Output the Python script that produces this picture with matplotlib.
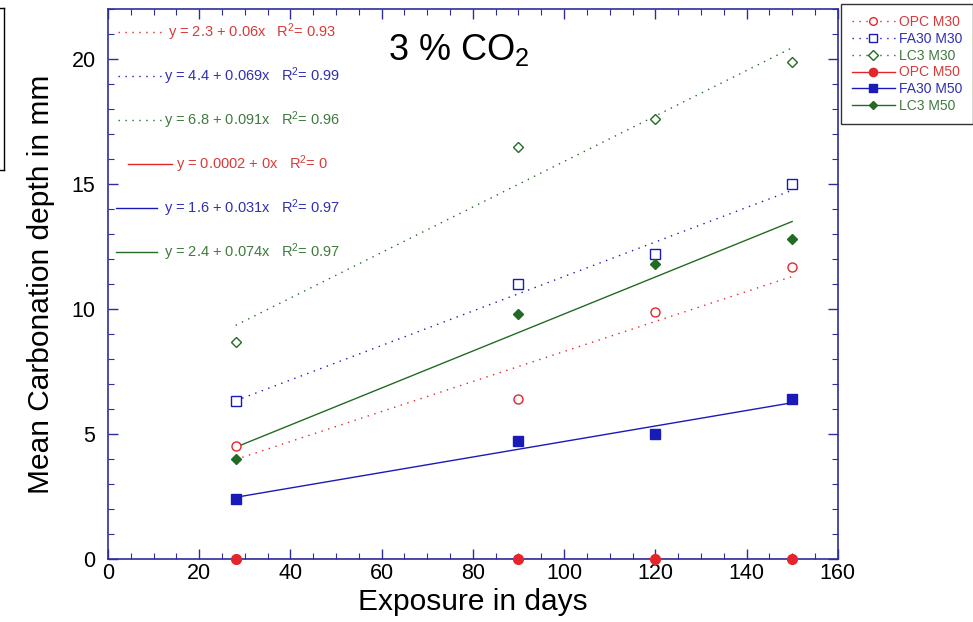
import numpy as np
import matplotlib.pyplot as plt
from matplotlib.lines import Line2D
from matplotlib.ticker import MultipleLocator

plt.rcParams['font.family'] = ['Liberation Sans', 'DejaVu Sans']
plt.rcParams['mathtext.fontset'] = 'custom'
plt.rcParams['mathtext.rm'] = 'Liberation Sans'
plt.rcParams['mathtext.it'] = 'Liberation Sans'

# exposure time (days) and carbonation depth (mm) per mix
days = [28, 90, 120, 150]
series = ['OPC M30', 'FA30 M30', 'LC3 M30', 'OPC M50', 'FA30 M50', 'LC3 M50']
depth = {
    'OPC M30':  [4.5, 6.4, 9.9, 11.7],
    'FA30 M30': [6.3, 11.0, 12.2, 15.0],
    'LC3 M30':  [8.7, 16.5, 17.6, 19.9],
    'OPC M50':  [0.0, 0.0, 0.0, 0.0],
    'FA30 M50': [2.4, 4.7, 5.0, 6.4],
    'LC3 M50':  [4.0, 9.8, 11.8, 12.8],
}
# linear fits y = a + b*x
intercepts = [2.3, 4.4, 6.8, 0.0002, 1.6, 2.4]
slopes = [0.06, 0.069, 0.091, 0.0, 0.031, 0.074]
r2 = [0.93, 0.99, 0.96, 0.0, 0.97, 0.97]

red, blue, green = '#e3262b', '#1a1ab8', '#236b23'
tred, tblue, tgreen = '#d83a3a', '#3030b0', '#3f7a3f'
colors = [red, blue, green, red, blue, green]
tcolors = [tred, tblue, tgreen, tred, tblue, tgreen]
markers = ['o', 's', 'D', 'o', 's', 'D']
msizes = [6.5, 6.5, 5.5, 7, 7, 5]
filled = [False, False, False, True, True, True]
dotted = (0, (1, 4))
styles = [dotted, dotted, dotted, '-', '-', '-']
spine_c = '#2d2d9c'

fig = plt.figure(figsize=(9.73, 6.22), dpi=100)
ax = fig.add_axes([0.111, 0.1013, 0.750, 0.8842])

xfit = np.array([days[0], days[-1]])
handles = []
for i, name in enumerate(series):
    c = colors[i]
    ax.plot(xfit, intercepts[i] + slopes[i] * xfit, color=c, lw=1.0,
            linestyle=styles[i], zorder=2)
    ax.plot(days, depth[name], linestyle='none', marker=markers[i],
            ms=msizes[i], mec=c, mew=1.0,
            mfc=c if filled[i] else 'white', clip_on=False, zorder=4)
    handles.append(Line2D([], [], color=c, lw=1.0, linestyle=styles[i],
                          marker=markers[i], ms=msizes[i] * 0.85, mec=c,
                          mfc=c if filled[i] else 'white'))

ax.set_xlim(0, 160)
ax.set_ylim(0, 22)
ax.xaxis.set_major_locator(MultipleLocator(20))
ax.xaxis.set_minor_locator(MultipleLocator(5))
ax.yaxis.set_major_locator(MultipleLocator(5))
ax.yaxis.set_minor_locator(MultipleLocator(1))
ax.tick_params(which='both', direction='in', top=True, right=True,
               color=spine_c, labelsize=15.5)
ax.tick_params(axis='x', which='major', pad=3)
ax.tick_params(axis='y', which='major', pad=9)
ax.tick_params(which='major', length=7, width=1.0)
ax.tick_params(which='minor', length=4, width=0.8)
for s in ax.spines.values():
    s.set_color(spine_c)
    s.set_linewidth(1.2)

ax.set_xlabel('Exposure in days', fontsize=21.5, labelpad=3)
ax.set_ylabel('Mean Carbonation depth in mm', fontsize=21.5, labelpad=12)

ax.text(0.384, 0.925, '3 % CO$_2$', transform=ax.transAxes, fontsize=26,
        ha='left', va='center')

# fit equations with sample line segments
rows_y = [0.958, 0.878, 0.798, 0.718, 0.638, 0.558]
seg_x = [(0.014, 0.078), (0.014, 0.072), (0.014, 0.072),
         (0.027, 0.088), (0.011, 0.067), (0.011, 0.067)]
txt_x = [0.082, 0.077, 0.077, 0.093, 0.077, 0.077]
for i in range(len(series)):
    ax.plot(seg_x[i], [rows_y[i]] * 2, transform=ax.transAxes,
            color=colors[i], lw=1.0, linestyle=styles[i])
    eq = 'y = {:g} + {:g}x   R$^2$= {:g}'.format(intercepts[i], slopes[i], r2[i])
    ax.text(txt_x[i], rows_y[i], eq, transform=ax.transAxes, fontsize=10.5,
            color=tcolors[i], ha='left', va='center')

leg = ax.legend(handles, series, loc='upper left',
                bbox_to_anchor=(0.864, 0.9936), bbox_transform=fig.transFigure,
                fontsize=10, frameon=True, fancybox=False, edgecolor='black',
                handlelength=3.1, handletextpad=0.3, labelspacing=0.2,
                borderpad=0.8, borderaxespad=0)
leg.get_frame().set_linewidth(1.0)
for t, c in zip(leg.get_texts(), tcolors):
    t.set_color(c)

# partial frame at the left edge
fig.add_artist(Line2D([0.004, 0.004], [0.987, 0.727], color='black', lw=1.0))
fig.add_artist(Line2D([0.0, 0.004], [0.987, 0.987], color='black', lw=1.0))
fig.add_artist(Line2D([0.0, 0.004], [0.727, 0.727], color='black', lw=1.0))

fig.savefig('out.png', dpi=100)
